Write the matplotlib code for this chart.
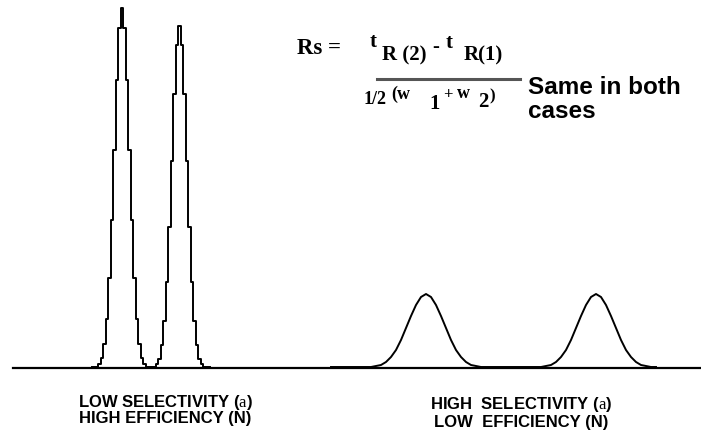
"""
Chromatographic resolution: same Rs, different selectivity / efficiency.
Two sharp peaks (high N) vs two broad, well-spaced peaks (high alpha).
"""
import numpy as np
import matplotlib.pyplot as plt
from matplotlib.lines import Line2D

plt.rcParams["mathtext.fontset"] = "custom"
plt.rcParams["mathtext.rm"] = "Liberation Serif"

W, H = 701, 437

# ---------------------------------------------------------------------------
# Data: detector signal above baseline
# ---------------------------------------------------------------------------
# narrow peaks, sampled every 2.5 units starting at t = 92
narrow_t = np.arange(92, 212, 2.5)
narrow_signal = [
    1.5, 1.5, 1.5,
    4, 10, 24, 49, 90, 148, 218, 288, 340, 360, 340, 288, 218, 148, 90, 49, 24, 10, 4,
    1.5, 1.5, 1.5, 1.5,
    4, 9, 23, 47, 86, 141, 207, 274, 323, 342, 323, 274, 207, 141, 86, 47, 23, 9, 4,
    1.5, 1.5, 1.5,
]

# broad peaks, sampled every 5 units starting at t = 331
broad_t = np.arange(331, 661, 5)
broad_signal = [
    1, 1, 1, 1, 1, 1, 1,
    1, 1, 2, 3, 6, 11, 18, 28, 40, 52, 63, 71, 74, 71, 63, 52, 40, 28, 18, 11, 6, 3, 2, 1, 1,
    1, 1, 1, 1, 1, 1, 1, 1, 1,
    1, 1, 2, 3, 6, 11, 18, 28, 40, 52, 63, 71, 74, 71, 63, 52, 40, 28, 18, 11, 6, 3, 2, 1, 1,
]

BASELINE_START = 13

# ---------------------------------------------------------------------------
# Plot
# ---------------------------------------------------------------------------
fig = plt.figure(figsize=(W / 100, H / 100), dpi=100)
ax = fig.add_axes([0, 0, 1, 1])
ax.set_xlim(0, W)
ax.set_ylim(-69, 368)
ax.axis("off")

ax.plot(narrow_t, narrow_signal, color="black", lw=1.4, drawstyle="steps-mid")
ax.plot(broad_t, broad_signal, color="black", lw=1.4)
ax.axhline(0, xmin=BASELINE_START / W, xmax=1, color="black", lw=1.6)


def put(x, y, s, size, serif=False, **kw):
    fam = "Liberation Serif" if serif else "Liberation Sans"
    fig.text(x / W, 1 - y / H, s, fontsize=size, family=fam,
             fontweight="bold", va="center", **kw)


# resolution equation
put(297, 49, "Rs =", 16.5, serif=True)
put(370, 42, "t", 15, serif=True)
put(382, 55, "R (2)", 15, serif=True)
put(432, 47, "-", 15, serif=True)
put(446, 43, "t", 15, serif=True)
put(464, 55, "R(1)", 15, serif=True)
fig.add_artist(Line2D([377 / W, 520 / W], [1 - 78.5 / H, 1 - 78.5 / H],
                      color="#555555", lw=2.2))
put(364, 99, "1/2", 13, serif=True)
put(391, 94, "(w", 13, serif=True)
put(429, 104, "1", 15, serif=True)
put(443, 95, "+", 12, serif=True)
put(457, 93, "w", 13, serif=True)
put(478, 102, "2", 15, serif=True)
put(489, 96, ")", 12, serif=True)

put(528, 87, "Same in both", 17.5)
put(528, 111, "cases", 17.5)

# condition labels
A = r"$\mathrm{a}$"
put(165, 402, "LOW SELECTIVITY (" + A + ")", 12, ha="center")
put(165, 419, "HIGH EFFICIENCY (N)", 12, ha="center")
put(521, 405, "HIGH  SELECTIVITY (" + A + ")", 12, ha="center")
put(521, 422, "LOW  EFFICIENCY (N)", 12, ha="center")

fig.savefig("out.png", dpi=100)
